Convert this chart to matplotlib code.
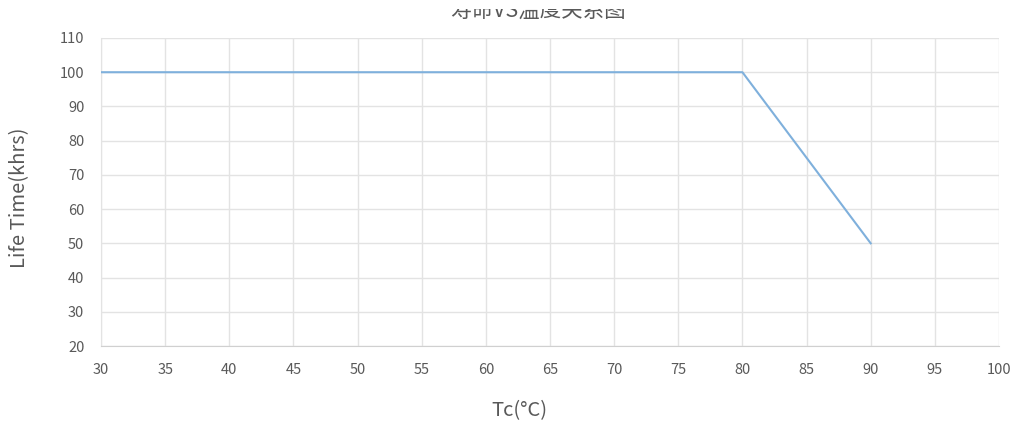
import numpy as np
import matplotlib
matplotlib.use("Agg")
import matplotlib.pyplot as plt
from matplotlib.patches import Rectangle

plt.rcParams['font.family'] = ['Noto Sans CJK SC', 'DejaVu Sans']

# data
tc = [30, 80, 90]
life = [100, 100, 50]
x_ticks = np.arange(30, 101, 5)
y_ticks = np.arange(20, 111, 10)

W, H = 1013, 423
fig = plt.figure(figsize=(W/100, H/100), dpi=100)
ax = fig.add_axes([101/W, 1 - 346/H, (999 - 101)/W, (346 - 38)/H])

ax.plot(tc, life, color='#7fb0dc', linewidth=1.5, zorder=3)

ax.set_xlim(30, 100)
ax.set_ylim(20, 110)
ax.set_xticks(x_ticks)
ax.set_yticks(y_ticks)
ax.grid(True, color='#e3e3e3', linewidth=1)
ax.set_axisbelow(True)
for s in ['top', 'right']:
    ax.spines[s].set_visible(False)
ax.spines['left'].set_color('#e3e3e3')
ax.spines['bottom'].set_color('#d0d0d0')
ax.tick_params(length=0, colors='#595959', labelsize=10.5)
ax.tick_params(axis='y', pad=12)
ax.tick_params(axis='x', pad=12)

fig.text(20/W, 1 - 198/H, 'Life Time(khrs)', rotation=90, ha='center', va='center',
         fontsize=14.5, color='#595959')
fig.text(519/W, 1 - 411/H, 'Tc(°C)', ha='center', va='center',
         fontsize=14.5, color='#595959')
fig.text(538/W, 1 - 16.5/H, '寿命VS温度关系图', ha='center', va='baseline',
         fontsize=15.5, color='#595959')
# the title is cut off at the top in the original
fig.patches.append(Rectangle((0, 1 - 9/H), 1, 9/H, transform=fig.transFigure,
                             facecolor='white', edgecolor='none', zorder=10))

fig.savefig('out.png', dpi=100)
